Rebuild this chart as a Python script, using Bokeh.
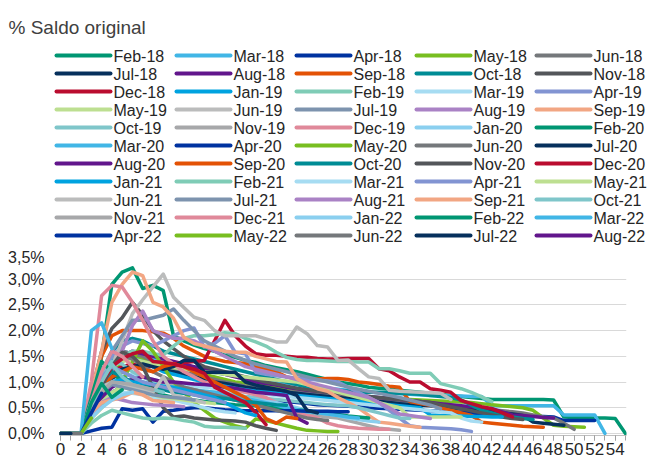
from bokeh.plotting import figure
from bokeh.models import Range1d, FixedTicker, CustomJSTickFormatter
from bokeh.layouts import column
from bokeh.embed import file_html
from bokeh.resources import INLINE
from bokeh.core.properties import value

title_text = "% Saldo original"

vintages = [
    "Feb-18", "Mar-18", "Apr-18", "May-18", "Jun-18", "Jul-18", "Aug-18", "Sep-18", "Oct-18", "Nov-18", "Dec-18",
    "Jan-19", "Feb-19", "Mar-19", "Apr-19", "May-19", "Jun-19", "Jul-19", "Aug-19", "Sep-19", "Oct-19", "Nov-19", "Dec-19",
    "Jan-20", "Feb-20", "Mar-20", "Apr-20", "May-20", "Jun-20", "Jul-20", "Aug-20", "Sep-20", "Oct-20", "Nov-20", "Dec-20",
    "Jan-21", "Feb-21", "Mar-21", "Apr-21", "May-21", "Jun-21", "Jul-21", "Aug-21", "Sep-21", "Oct-21", "Nov-21", "Dec-21",
    "Jan-22", "Feb-22", "Mar-22", "Apr-22", "May-22", "Jun-22", "Jul-22", "Aug-22",
]

palette = [
    "#009672", "#41B6E6", "#0032A0", "#78BE20", "#75787B", "#06305C", "#62168C", "#E35205",
    "#008C95", "#53565A", "#BA0C2F", "#00A3E0", "#7FCCB6", "#A6DCF2", "#8294D2", "#BDDF91",
    "#BBBCBC", "#7D93AE", "#AA82C5", "#F2A683", "#7FC6CA", "#A7A8AA", "#E0899A", "#8ACFEF",
]

# % of original balance by months since origination (x = 0, 1, 2, ...)
feb_18 = [0,0,0,0.5,1.5,2.9,3.14,3.22,2.82,2.88,2.78,1.9,1.8,1.72,1.65,1.6,1.52,1.48,1.42,1.38,1.32,1.28,1.24,1.2,1.15,1.1,1.05,1.0,0.97,0.94,0.9,0.88,0.86,0.84,0.82,0.8,0.78,0.76,0.74,0.72,0.7,0.68,0.66,0.66,0.66,0.66,0.66,0.66,0.65,0.32,0.31,0.31,0.3,0.3,0.29,0]
mar_18 = [0,0,0,0.5,1.1,1.4,1.6,1.55,1.5,1.45,1.4,1.35,1.3,1.25,1.22,1.18,1.15,1.12,1.1,1.06,1.03,1.0,0.98,0.95,0.93,0.9,0.88,0.86,0.84,0.82,0.8,0.79,0.78,0.77,0.76,0.75,0.74,0.74,0.73,0.73,0.72,0.72,0.54,0.54,0.54,0.54,0.54,0.54,0.54,0.36,0.36,0.36,0.36,0]
apr_18 = [0,0,0,0.3,0.6,0.8,0.9,0.95,0.95,0.92,0.9,0.88,0.85,0.82,0.8,0.78,0.75,0.72,0.7,0.68,0.66,0.64,0.62,0.6,0.58,0.56,0.55,0.54,0.53,0.52,0.5,0.49,0.48,0.47,0.46,0.45,0.44,0.43,0.42,0.41,0.4,0.39,0.38,0.37,0.36,0.35,0.34,0.33,0.32,0.25,0.25,0.25,0.25]
may_18 = [0,0,0,0.4,0.9,1.2,1.4,1.5,1.45,1.4,1.35,1.3,1.25,1.2,1.15,1.1,1.05,1.0,0.98,0.95,0.92,0.9,0.87,0.85,0.82,0.8,0.78,0.76,0.74,0.72,0.7,0.69,0.68,0.67,0.66,0.65,0.64,0.63,0.62,0.61,0.6,0.58,0.56,0.54,0.52,0.5,0.45,0.3,0.16,0.14,0.13,0.12]
jun_18 = [0,0,0,0.6,1.2,1.5,1.6,1.55,1.5,1.4,1.3,1.25,1.2,1.15,1.1,1.05,1.0,0.96,0.92,0.9,0.88,0.85,0.82,0.8,0.78,0.76,0.74,0.72,0.7,0.69,0.68,0.66,0.64,0.62,0.6,0.58,0.56,0.55,0.54,0.52,0.5,0.48,0.46,0.44,0.42,0.4,0.36,0.32,0.3,0.2,0.08]
jul_18 = [0,0,0,0.3,0.7,1.0,1.2,1.3,1.35,1.3,1.25,1.2,1.15,1.1,1.05,1.0,0.97,0.94,0.9,0.87,0.85,0.82,0.8,0.78,0.76,0.74,0.72,0.7,0.68,0.66,0.64,0.62,0.6,0.58,0.56,0.55,0.54,0.52,0.5,0.48,0.46,0.44,0.42,0.4,0.38,0.35,0.22,0.2,0.18,0.16]
aug_18 = [0,0,0,0.5,1.0,1.3,1.5,1.6,1.55,1.5,1.45,1.4,1.35,1.3,1.25,1.2,1.15,1.1,1.05,1.0,0.97,0.94,0.9,0.87,0.84,0.82,0.8,0.78,0.76,0.74,0.72,0.7,0.68,0.66,0.64,0.62,0.6,0.58,0.56,0.54,0.52,0.5,0.48,0.42,0.36,0.35,0.33,0.31,0.3]
sep_18 = [0,0,0,0.8,1.5,1.9,2.0,2.0,2.0,1.98,1.95,1.85,1.7,1.6,1.5,1.45,1.4,1.38,1.36,1.3,1.25,1.2,1.1,1.06,1.06,1.06,1.07,1.07,1.05,1.0,0.98,0.95,0.92,0.9,0.62,0.58,0.55,0.5,0.45,0.4,0.35,0.22,0.2,0.18,0.16,0.14,0.13,0.12]
oct_18 = [0,0,0,0.6,1.2,1.6,1.8,1.85,1.8,1.7,1.6,1.55,1.5,1.45,1.4,1.35,1.3,1.25,1.2,1.15,1.1,1.05,1.0,0.95,0.9,0.88,0.86,0.84,0.82,0.8,0.8,0.8,0.79,0.78,0.77,0.76,0.74,0.72,0.7,0.65,0.55,0.45,0.4,0.35,0.32,0.29,0.27]
nov_18 = [0,0,0,0.8,1.6,2.04,2.25,2.55,2.3,2.0,1.8,1.65,1.5,1.4,1.3,1.25,1.2,1.15,1.1,1.05,1.0,0.96,0.92,0.88,0.85,0.82,0.8,0.78,0.76,0.74,0.72,0.7,0.68,0.66,0.64,0.62,0.6,0.56,0.52,0.48,0.44,0.4,0.36,0.32,0.29,0.27]
dec_18 = [0,0,0,0.5,1.0,1.2,1.3,1.35,1.3,1.3,1.32,1.35,1.38,1.4,1.42,1.8,2.2,1.9,1.7,1.55,1.52,1.52,1.5,1.48,1.48,1.46,1.45,1.45,1.46,1.46,1.46,1.26,1.22,1.1,1.0,1.0,0.87,0.84,0.8,0.64,0.58,0.52,0.48,0.4,0.32]
jan_19 = [0,0,0,0.6,1.1,1.4,1.5,1.45,1.4,1.3,1.2,1.15,1.1,1.05,1.0,0.96,0.92,0.88,0.85,0.82,0.8,0.78,0.76,0.74,0.72,0.7,0.68,0.66,0.64,0.62,0.6,0.58,0.56,0.54,0.52,0.5,0.36,0.35,0.35,0.34,0.33,0.33,0.32,0.32]
feb_19 = [0,0,0,0.5,1.0,1.3,1.5,1.6,1.6,1.55,1.52,1.7,1.85,1.9,1.9,1.92,1.96,1.94,1.85,1.78,1.7,1.58,1.48,1.44,1.42,1.42,1.41,1.4,1.4,1.39,1.39,1.26,1.26,1.22,1.17,1.17,1.17,0.97,0.92,0.87,0.8,0.71,0.62]
mar_19 = [0,0,0,0.4,0.8,1.0,1.1,1.15,1.1,1.05,1.0,0.98,0.95,0.92,0.9,0.88,0.85,0.82,0.8,0.78,0.76,0.74,0.72,0.7,0.68,0.66,0.64,0.62,0.6,0.58,0.56,0.54,0.52,0.5,0.48,0.46,0.44,0.42,0.4,0.3,0.24,0.22]
apr_19 = [0,0,0,0.7,1.2,1.5,1.7,1.8,1.75,1.7,1.8,1.9,2.0,2.05,1.68,1.75,1.9,1.58,1.55,1.19,1.15,1.12,1.1,1.08,1.06,1.04,1.02,1.0,0.9,0.8,0.7,0.6,0.45,0.3,0.15,0.12,0.11,0.1,0.09,0.07,0.04]
may_19 = [0,0,0,0.5,1.0,1.3,1.4,1.45,1.4,1.35,1.3,1.28,1.25,1.22,1.2,1.18,1.15,1.12,1.1,1.08,1.06,1.04,1.02,1.0,0.95,0.9,0.85,0.8,0.75,0.7,0.65,0.6,0.55,0.5,0.32,0.32,0.32,0.32,0.32,0.32]
jun_19 = [0,0,0,0.3,0.8,1.3,1.8,2.33,2.6,2.85,3.1,2.65,2.45,2.26,2.2,2.0,1.9,1.9,1.9,1.9,1.84,1.78,1.78,2.07,1.94,1.71,1.68,1.42,1.43,1.26,1.1,1.07,0.84,0.82,0.81,0.8,0.79,0.78,0.66]
jul_19 = [0,0,0,0.6,1.2,1.6,1.9,2.2,2.2,2.25,2.3,2.42,2.2,2.0,1.8,1.7,1.6,1.5,1.42,1.35,1.3,1.25,1.2,1.15,1.1,1.05,1.0,0.95,0.9,0.86,0.82,0.78,0.74,0.7,0.65,0.6,0.55,0.48]
aug_19 = [0,0,0,0.4,0.8,1.2,1.6,2.1,2.38,2.0,1.92,1.85,1.85,1.8,1.7,1.6,1.5,1.4,1.3,1.25,1.2,1.15,1.1,1.05,1.0,0.95,0.9,0.85,0.8,0.75,0.7,0.6,0.5,0.38,0.35,0.32,0.29]
sep_19 = [0,0,0,0.8,1.6,2.55,2.9,3.14,3.07,2.55,2.46,2.24,1.87,1.75,1.7,1.65,1.6,1.58,1.58,1.5,1.45,1.4,1.39,1.07,0.95,0.87,0.82,0.7,0.6,0.5,0.35,0.22,0.2,0.17,0.14,0.12]
oct_19 = [0,0,0,0.6,1.1,1.4,1.35,1.2,1.1,1.0,0.95,0.9,0.88,0.85,0.82,0.8,0.78,0.75,0.72,0.7,0.68,0.66,0.64,0.62,0.6,0.58,0.56,0.55,0.54,0.5,0.45,0.4,0.35,0.3,0.29]
nov_19 = [0,0,0,0.5,0.9,1.0,0.98,0.95,0.92,0.9,1.0,0.95,0.9,0.85,0.8,0.75,0.7,0.65,0.6,0.55,0.5,0.45,0.42,0.4,0.38,0.35,0.32,0.3,0.25,0.2,0.15,0.1,0.08,0.06]
dec_19 = [0,0,0,1.0,2.68,2.88,2.85,2.55,2.2,1.8,1.5,1.35,1.2,1.1,1.0,0.95,0.9,0.85,0.8,0.75,0.7,0.6,0.5,0.4,0.35,0.3,0.2,0.15,0.12,0.1,0.09,0.08,0.08]
jan_20 = [0,0,0,0.4,0.8,1.0,1.05,1.0,0.95,0.9,0.88,0.85,0.82,0.8,0.78,0.75,0.72,0.7,0.68,0.65,0.62,0.6,0.55,0.5,0.45,0.4,0.38,0.35,0.3,0.27,0.24,0.22]
feb_20 = [0,0,0,0.7,1.4,1.2,1.0,0.9,0.85,0.8,0.75,0.7,0.68,0.65,0.62,0.6,0.58,0.56,0.55,0.54,0.52,0.5,0.48,0.46,0.44,0.42,0.4,0.37,0.34,0.32,0.3]
mar_20 = [0,0,0,0.6,1.0,1.3,1.2,1.1,1.0,0.95,0.9,0.88,0.86,0.84,0.82,0.8,0.76,0.72,0.68,0.64,0.6,0.55,0.5,0.46,0.42,0.4,0.38,0.35,0.32,0.3]
apr_20 = [0,0,0,0.05,0.1,0.12,0.48,0.45,0.48,0.22,0.43,0.45,0.48,0.5,0.5,0.48,0.46,0.45,0.44,0.44,0.44,0.44,0.44,0.44,0.43,0.43,0.43,0.42,0.42]
may_20 = [0,0,0,0.3,0.5,0.7,1.0,1.4,1.8,1.6,1.3,1.0,0.8,0.6,0.45,0.3,0.22,0.15,0.1,0.28,0.25,0.2,0.15,0.1,0.06,0.05,0.04,0.04]
jun_20 = [0,0,0,0.4,0.9,1.3,1.5,1.45,1.3,1.2,1.1,1.0,0.9,0.85,0.8,0.75,0.7,0.65,0.6,0.55,0.5,0.45,0.4,0.35,0.3,0.27,0.25]
jul_20 = [0,0,0,0.4,0.8,1.1,1.25,1.3,1.35,1.3,1.25,1.3,1.42,1.42,1.19,1.19,1.19,1.19,1.0,0.94,0.9,0.86,0.82,0.74,0.45,0.4]
aug_20 = [0,0,0,0.3,0.7,0.9,1.0,1.05,1.1,1.05,1.0,1.0,0.98,0.96,0.95,0.93,0.9,0.88,0.84,0.8,0.78,0.76,0.74,0.3,0.2]
sep_20 = [0,0,0,0.5,0.9,1.1,1.2,1.3,1.25,1.2,1.3,1.35,1.3,1.2,1.1,1.0,0.9,0.8,0.7,0.55,0.29,0.2,0.32,0.29]
oct_20 = [0,0,0,0.5,1.0,1.2,1.1,1.0,0.95,0.9,0.85,0.8,0.78,0.75,0.72,0.7,0.68,0.65,0.62,0.6,0.58,0.56,0.55]
nov_20 = [0,0,0,0.4,0.9,1.3,1.58,1.5,1.3,0.9,0.5,0.32,0.34,0.3,0.28,0.26,0.25,0.24,0.22,0.15,0.1,0.06]
dec_20 = [0,0,0,0.5,1.0,1.3,1.45,1.55,1.6,1.4,1.38,1.35,1.3,1.25,1.17,0.9,0.8,0.7,0.6,0.41,0.17]
jan_21 = [0,0,0,0.5,0.9,1.0,1.05,1.0,0.98,0.95,0.92,0.9,0.85,0.8,0.75,0.7,0.6,0.5,0.4,0.35]
feb_21 = [0,0,0,0.2,0.35,0.45,0.4,0.35,0.3,0.28,0.3,0.29,0.25,0.22,0.14,0.12,0.12,0.11,0.1]
mar_21 = [0,0,0,0.3,0.6,0.75,0.8,0.78,0.75,0.7,0.68,0.65,0.6,0.55,0.5,0.45,0.42,0.4]
apr_21 = [0,0,0,0.6,1.1,1.3,1.2,1.1,1.0,0.95,0.9,0.85,0.8,0.75,0.7,0.65,0.6]
may_21 = [0,0,0,0.3,0.6,0.8,0.9,0.85,0.8,0.75,0.7,0.68,0.65,0.62,0.6,0.58]
jun_21 = [0,0,0,0.5,0.9,1.0,0.95,0.9,0.85,0.8,1.1,0.75,0.7,0.65,0.6]
jul_21 = [0,0,0,0.4,0.8,0.95,0.9,0.85,0.8,0.75,0.72,0.7,0.68,0.65]
aug_21 = [0,0,0,0.3,0.6,0.7,0.65,0.6,0.58,0.56,0.55,0.54,0.52]
sep_21 = [0,0,0,0.4,0.6,0.65,0.7,0.8,0.75,0.64,0.62,0.6]
oct_21 = [0,0,0,0.5,1.0,1.35,1.1,0.95,0.9,0.85,0.8]
nov_21 = [0,0,0,0.4,0.8,1.0,0.98,0.95,0.9,0.85]
dec_21 = [0,0,0,0.6,1.2,1.6,1.5,1.3,1.1]
jan_22 = [0,0,0,0.3,0.5,0.65,0.75,0.8]
feb_22 = [0,0,0,0.6,0.97,0.7,0.85]
mar_22 = [0,0,0,2.0,2.15,1.65]
apr_22 = [0,0,0,0.4,0.78]
may_22 = [0,0,0,0.3]
jun_22 = [0,0,0]
jul_22 = [0,0]
aug_22 = [0]

series = [
    feb_18, mar_18, apr_18, may_18, jun_18, jul_18, aug_18, sep_18, oct_18, nov_18, dec_18,
    jan_19, feb_19, mar_19, apr_19, may_19, jun_19, jul_19, aug_19, sep_19, oct_19, nov_19, dec_19,
    jan_20, feb_20, mar_20, apr_20, may_20, jun_20, jul_20, aug_20, sep_20, oct_20, nov_20, dec_20,
    jan_21, feb_21, mar_21, apr_21, may_21, jun_21, jul_21, aug_21, sep_21, oct_21, nov_21, dec_21,
    jan_22, feb_22, mar_22, apr_22, may_22, jun_22, jul_22, aug_22,
]

y_ticks = [0.0, 0.5, 1.0, 1.5, 2.0, 2.5, 3.0, 3.5]
x_label_ticks = list(range(0, 55, 2))
x_minor_ticks = list(range(0, 56))

FONT = "Liberation Sans"
W = 647
HEAD_H = 248
PLOT_H = 212

# ---------- header: title + legend (pixel coordinates) ----------
head = figure(width=W, height=HEAD_H, x_range=Range1d(0, W), y_range=Range1d(HEAD_H, 0),
              toolbar_location=None, output_backend="svg", min_border=0,
              x_axis_location=None, y_axis_location=None)
head.frame_align = False
head.grid.visible = False
head.outline_line_color = None

head.text(x=[8], y=[27], text=[title_text], text_font=value(FONT), text_font_size=value("19px"),
          text_color="#404040", text_baseline="alphabetic", text_align="left")

ncols = 5
lx0, ly0, colw, rowh, seg = 56, 55, 120, 18, 54
xs0, xs1, ys, tx, ty, cols = [], [], [], [], [], []
for i, name in enumerate(vintages):
    r, c = divmod(i, ncols)
    x0 = lx0 + colw * c
    y = ly0 + rowh * r
    xs0.append(x0); xs1.append(x0 + seg); ys.append(y)
    tx.append(x0 + seg + 3); ty.append(y + 0.5)
    cols.append(palette[i % len(palette)])
head.segment(x0=xs0, y0=ys, x1=xs1, y1=ys, line_color=cols, line_width=4, line_cap="round")
head.text(x=tx, y=ty, text=vintages, text_font=value(FONT), text_font_size=value("16px"),
          text_color="#262626", text_baseline="middle", text_align="left")

# ---------- chart ----------
p = figure(width=W, height=PLOT_H, x_range=Range1d(-0.1, 55.1), y_range=Range1d(-0.04, 3.5),
           toolbar_location=None, output_backend="svg",
           min_border_left=59, min_border_right=21, min_border_top=5, min_border_bottom=25)
p.frame_align = False
p.outline_line_color = None

for k, vals in enumerate(series):
    p.line(list(range(len(vals))), vals, line_color=palette[k % len(palette)], line_width=3.5,
           line_join="round", line_cap="round")

p.xgrid.visible = False
p.ygrid.ticker = FixedTicker(ticks=y_ticks)
p.ygrid.grid_line_color = "#D9D9D9"
p.ygrid.grid_line_width = 1

p.yaxis.ticker = FixedTicker(ticks=y_ticks)
p.yaxis.formatter = CustomJSTickFormatter(code="return tick.toFixed(1).replace('.', ',') + '%';")
p.yaxis.axis_line_color = None
p.yaxis.major_tick_line_color = None
p.yaxis.minor_tick_line_color = None
p.yaxis.major_tick_out = 0
p.yaxis.minor_tick_out = 0
p.yaxis.major_label_standoff = 15
p.yaxis.major_label_text_font = FONT
p.yaxis.major_label_text_font_size = "16px"
p.yaxis.major_label_text_color = "#262626"

p.xaxis.ticker = FixedTicker(ticks=x_label_ticks, minor_ticks=x_minor_ticks)
p.xaxis.axis_line_color = "#BFBFBF"
p.xaxis.major_tick_line_color = "#A0A0A0"
p.xaxis.minor_tick_line_color = "#A0A0A0"
p.xaxis.major_tick_out = 5
p.xaxis.major_tick_in = 0
p.xaxis.minor_tick_out = 5
p.xaxis.minor_tick_in = 0
p.xaxis.major_label_standoff = 2
p.xaxis.major_label_text_font = FONT
p.xaxis.major_label_text_font_size = "17px"
p.xaxis.major_label_text_color = "#262626"

layout = column(head, p, spacing=0)
open("out.html", "w").write(file_html(layout, INLINE))
